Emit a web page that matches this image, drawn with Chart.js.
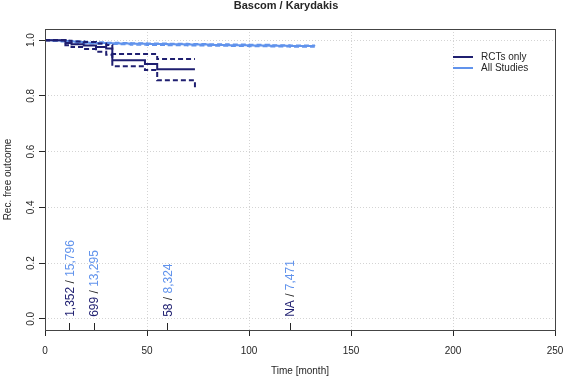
<!DOCTYPE html>
<html><head><meta charset="utf-8">
<script src="https://cdn.jsdelivr.net/npm/chart.js@4.4.1/dist/chart.umd.min.js"></script>
<style>html,body{margin:0;padding:0;background:#fff}canvas{display:block}</style>
</head><body>
<canvas id="c" width="566" height="378"></canvas>
<script>
// ---- text ----
const chartTitle = 'Bascom / Karydakis';
const xTitle = 'Time [month]';
const yTitle = 'Rec. free outcome';
const seriesNames = ['RCTs only', 'All Studies'];

// ---- axis ticks ----
const xTicks = [0, 50, 100, 150, 200, 250];
const yTicks = [0, 0.2, 0.4, 0.6, 0.8, 1.0];
const yTickLabels = ['0.0', '0.2', '0.4', '0.6', '0.8', '1.0'];

// ---- RCTs only (Kaplan-Meier estimate + 95% CI) ----
const rctTime  = [0, 10, 13, 19, 25, 30, 33, 49, 55, 73.5];
const rctSurv  = [1, 0.990, 0.985, 0.981, 0.975, 0.970, 0.928, 0.914, 0.896, 0.896];
const rctUpper = [1, 0.998, 0.995, 0.993, 0.988, 0.983, 0.950, 0.950, 0.932, 0.932];
const rctLower = [1, 0.982, 0.975, 0.968, 0.958, 0.948, 0.906, 0.893, 0.856, 0.827];

// ---- All Studies ----
const allTime  = [0, 4, 8, 12, 16, 20, 25, 30, 36, 42, 50, 60, 70, 80, 90, 100, 110, 120, 132];
const allSurv  = [1, 0.999, 0.997, 0.995, 0.993, 0.991, 0.990, 0.989, 0.988, 0.987, 0.986, 0.985, 0.984, 0.983, 0.982, 0.981, 0.980, 0.979, 0.978];
const allUpper = [1, 1.000, 0.999, 0.998, 0.996, 0.994, 0.993, 0.992, 0.991, 0.990, 0.989, 0.988, 0.987, 0.986, 0.985, 0.984, 0.983, 0.982, 0.981];
const allLower = [1, 0.997, 0.994, 0.991, 0.989, 0.987, 0.986, 0.985, 0.984, 0.983, 0.982, 0.981, 0.980, 0.979, 0.978, 0.977, 0.976, 0.975, 0.974];

// ---- numbers at risk ----
const riskTimes = [12, 24, 60, 120];
const riskRct = ['1,352', '699', '58', 'NA'];
const riskAll = ['15,796', '13,295', '8,324', '7,471'];

const NAVY = '#1f1f70';
const BLUE = '#6193ec';
const INK = '#262626';
const FONT = '"Liberation Sans", Arial, Helvetica, sans-serif';

function pts(t, v) { return t.map((x, i) => ({ x: x, y: v[i] })); }
function line(data, color, width, dash, order) {
  return { data: data, borderColor: color, borderWidth: width, borderDash: dash,
    pointRadius: 0, stepped: true, fill: false, tension: 0, order: order,
    borderCapStyle: 'butt', borderJoinStyle: 'miter' };
}

const decor = {
  id: 'decor',
  afterDraw(chart) {
    const ctx = chart.ctx, a = chart.chartArea;
    const xs = chart.scales.x, ys = chart.scales.y;
    ctx.save();
    // frame
    ctx.strokeStyle = '#444'; ctx.lineWidth = 1; ctx.setLineDash([]);
    ctx.strokeRect(Math.round(a.left) + 0.5, Math.round(a.top) + 0.5,
      Math.round(a.right - a.left), Math.round(a.bottom - a.top));
    // rug ticks at risk times
    ctx.strokeStyle = INK;
    riskTimes.forEach(t => {
      const px = Math.round(xs.getPixelForValue(t)) + 0.5;
      ctx.beginPath(); ctx.moveTo(px, a.bottom - 7); ctx.lineTo(px, a.bottom); ctx.stroke();
    });
    // x tick labels
    ctx.fillStyle = INK; ctx.font = '10px ' + FONT;
    ctx.textAlign = 'center'; ctx.textBaseline = 'middle';
    xTicks.forEach(v => ctx.fillText(String(v), xs.getPixelForValue(v), a.bottom + 21));
    // y tick labels (rotated)
    yTicks.forEach((v, i) => {
      ctx.save(); ctx.translate(a.left - 14, ys.getPixelForValue(v)); ctx.rotate(-Math.PI / 2);
      ctx.fillText(yTickLabels[i], 0, 0); ctx.restore();
    });
    // axis titles
    ctx.fillText(xTitle, (a.left + a.right) / 2, a.bottom + 41);
    ctx.save(); ctx.translate(8, (a.top + a.bottom) / 2); ctx.rotate(-Math.PI / 2);
    ctx.fillText(yTitle, 0, 0); ctx.restore();
    // main title
    ctx.font = 'bold 11px ' + FONT;
    ctx.fillText(chartTitle, 286, 6);
    // legend
    ctx.font = '10px ' + FONT; ctx.textAlign = 'left';
    [[NAVY, seriesNames[0], 57], [BLUE, seriesNames[1], 68]].forEach(([c, txt, y]) => {
      ctx.strokeStyle = c; ctx.lineWidth = 2;
      ctx.beginPath(); ctx.moveTo(453, y); ctx.lineTo(473, y); ctx.stroke();
      ctx.fillStyle = INK; ctx.fillText(txt, 481, y);
    });
    // numbers at risk (rotated)
    ctx.font = '12px ' + FONT; ctx.textAlign = 'left'; ctx.textBaseline = 'middle';
    riskTimes.forEach((t, i) => {
      ctx.save(); ctx.translate(xs.getPixelForValue(t) + 1, ys.getPixelForValue(0) - 2);
      ctx.rotate(-Math.PI / 2);
      let x = 0;
      ctx.fillStyle = NAVY; ctx.fillText(riskRct[i], x, 0); x += ctx.measureText(riskRct[i]).width;
      ctx.fillStyle = INK; ctx.fillText(' / ', x, 0); x += ctx.measureText(' / ').width;
      ctx.fillStyle = BLUE; ctx.fillText(riskAll[i], x, 0);
      ctx.restore();
    });
    ctx.restore();
  }
};

new Chart(document.getElementById('c'), {
  type: 'line',
  data: {
    datasets: [
      line(pts(rctTime, rctSurv), NAVY, 2, [], 0),
      line(pts(rctTime, rctUpper), NAVY, 2, [5, 3], 1),
      line(pts(rctTime, rctLower), NAVY, 2, [5, 3], 1),
      line(pts(allTime, allSurv), BLUE, 2, [], 2),
      line(pts(allTime, allUpper), BLUE, 1.5, [5, 3], 3),
      line(pts(allTime, allLower), BLUE, 1.5, [5, 3], 3)
    ]
  },
  options: {
    responsive: false, animation: false, devicePixelRatio: 1,
    layout: { padding: { left: 39, right: 11, top: 29, bottom: 42 } },
    plugins: { legend: { display: false }, tooltip: { enabled: false }, title: { display: false } },
    scales: {
      x: {
        type: 'linear', min: 0, max: 250,
        afterBuildTicks: s => { s.ticks = xTicks.map(v => ({ value: v })); },
        afterFit: s => { s.height = 6; },
        ticks: { display: false },
        grid: { color: '#d4d4d4', lineWidth: 1, drawTicks: true, tickLength: 6,
                tickColor: INK, tickWidth: 1, tickBorderDash: [] },
        border: { display: false, dash: [1, 2] }
      },
      y: {
        type: 'linear', min: -0.04, max: 1.04,
        afterBuildTicks: s => { s.ticks = yTicks.map(v => ({ value: v })); },
        afterFit: s => { s.width = 6; },
        ticks: { display: false },
        grid: { color: '#d4d4d4', lineWidth: 1, drawTicks: true, tickLength: 6,
                tickColor: INK, tickWidth: 1, tickBorderDash: [] },
        border: { display: false, dash: [1, 2] }
      }
    }
  },
  plugins: [decor]
});
</script>
</body></html>
